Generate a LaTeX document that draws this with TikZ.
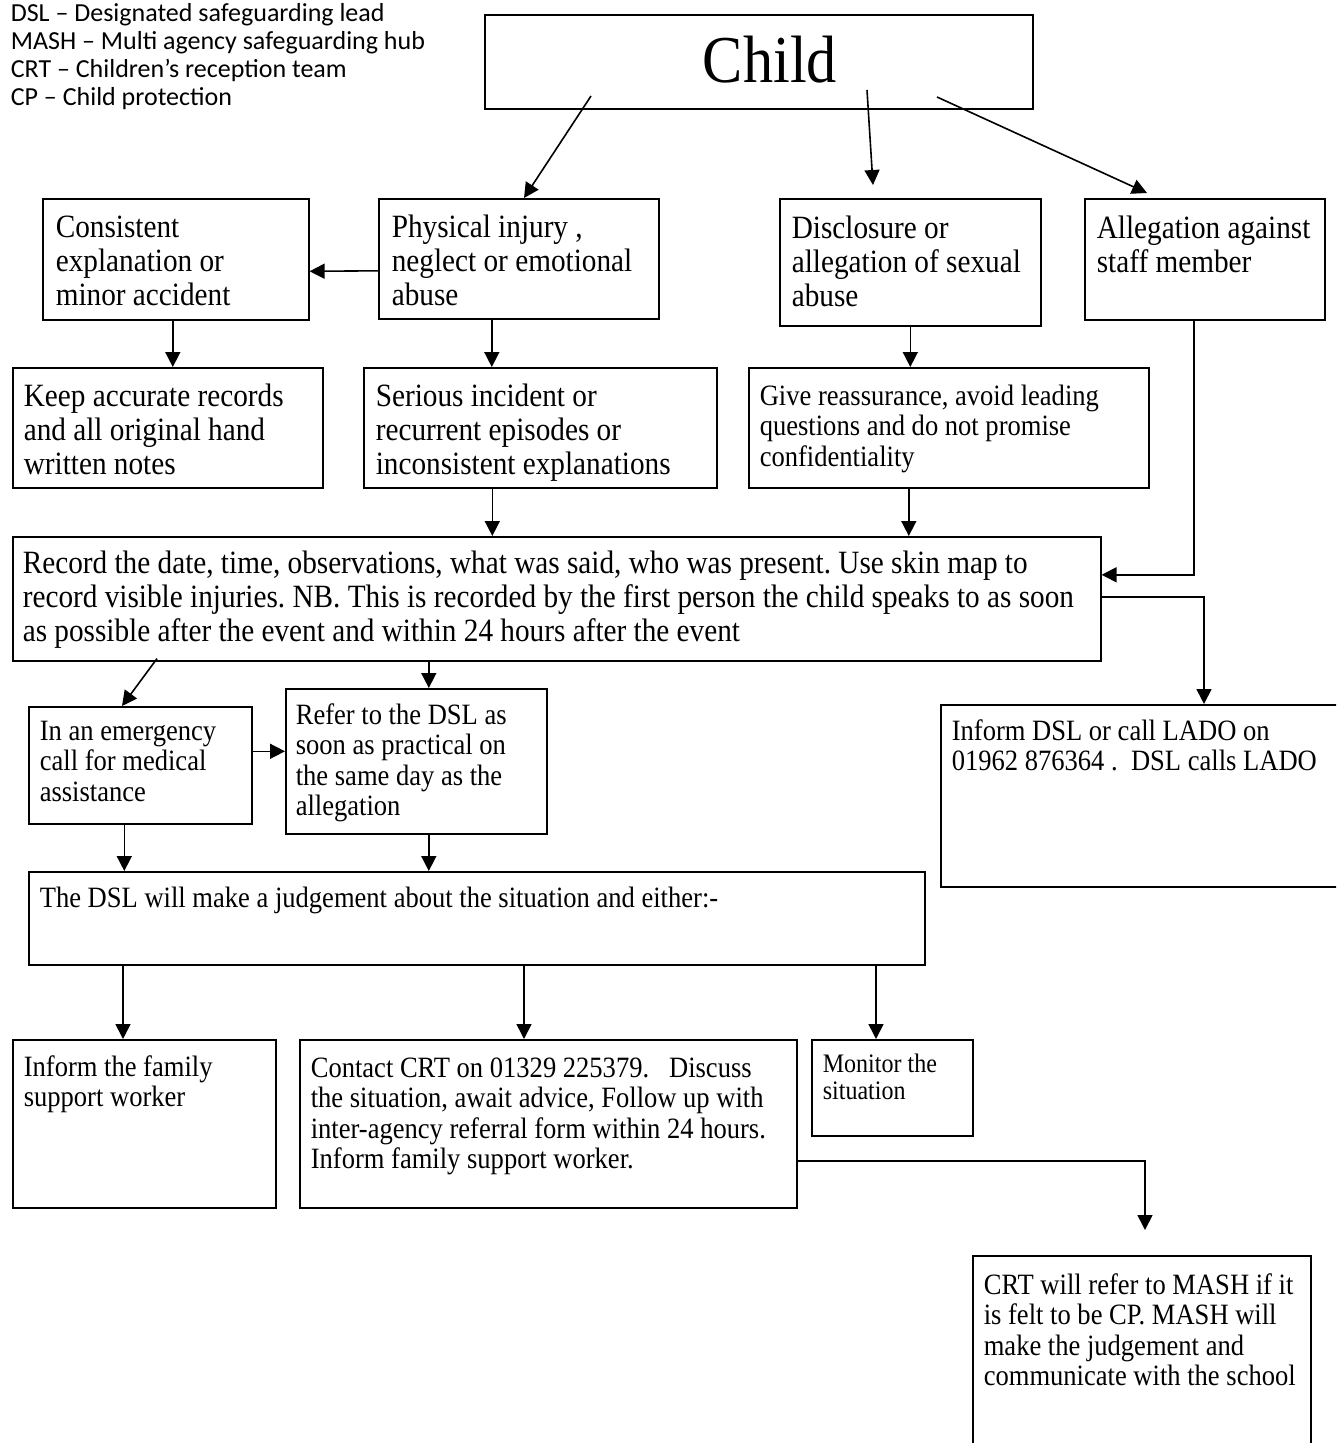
\documentclass[tikz,border=0pt]{standalone}
\usepackage{fontspec}
\setmainfont{Liberation Serif}[FakeStretch=0.9]
\newfontfamily\legendfont{Carlito}
\usetikzlibrary{arrows.meta,positioning,calc}
\newcommand{\boxlines}[1]{\begin{tabular}[t]{@{}l@{}}#1\end{tabular}}
\frenchspacing

\begin{document}
\begin{tikzpicture}[x=1pt, y=-1pt, >={Triangle[width=15pt,length=15pt]}, line width=1.6pt]
\tikzstyle{box}=[draw, line width=1.6pt, anchor=north west, inner sep=0]
\tikzstyle{txt}=[inner sep=0, anchor=base west, font=\fontsize{32.5}{34}\selectfont]
\tikzstyle{txtm}=[txt, font=\fontsize{29.5}{30.5}\selectfont]
\tikzstyle{txts}=[txt, font=\fontsize{26.7}{27}\selectfont]
\useasboundingbox (0,0) rectangle (1336,1443);
\clip (0,0) rectangle (1336,1443);

% legend
\node[inner sep=0, anchor=base west, font=\legendfont\fontsize{26}{28}\selectfont] (legend) at (10,21)
  {\boxlines{DSL – Designated safeguarding lead\\MASH – Multi agency safeguarding hub\\CRT – Children’s reception team\\CP – Child protection}};

% boxes
\node[box, minimum width=548pt, minimum height=94pt] (child) at (484,14) {};
\node[box, minimum width=266pt, minimum height=121pt] (consistent) at (42,198) {};
\node[box, minimum width=280pt, minimum height=120pt] (physical) at (378,198) {};
\node[box, minimum width=261pt, minimum height=127pt] (disclosure) at (779,198) {};
\node[box, minimum width=240pt, minimum height=121pt] (allegation) at (1084,198) {};
\node[box, minimum width=310pt, minimum height=120pt] (keep) at (12,367) {};
\node[box, minimum width=353pt, minimum height=120pt] (serious) at (363,367) {};
\node[box, minimum width=400pt, minimum height=120pt] (give) at (748,367) {};
\node[box, minimum width=1088pt, minimum height=124pt] (record) at (12,536) {};
\node[box, minimum width=223pt, minimum height=117pt] (emergency) at (28,706) {};
\node[box, minimum width=261pt, minimum height=145pt] (refer) at (285,688) {};
\node[box, minimum width=420pt, minimum height=182pt] (lado) at (940,704) {};
\node[box, minimum width=896pt, minimum height=93pt] (judgement) at (28,871) {};
\node[box, minimum width=263pt, minimum height=168pt] (family) at (12,1039) {};
\node[box, minimum width=497pt, minimum height=168pt] (contact) at (299,1039) {};
\node[box, minimum width=161pt, minimum height=96pt] (monitor) at (811,1039) {};
\node[box, minimum width=338pt, minimum height=215pt] (mash) at (972,1255) {};

% texts
\node[inner sep=0, anchor=base, font=\fontsize{67}{70}\selectfont] (child-t) at (770,82) {Child};
\node[txt] (consistent-t) at ($(consistent.north west)+(13,39)$) {\boxlines{Consistent\\explanation or\\minor accident}};
\node[txt] (physical-t) at ($(physical.north west)+(13,39)$) {\boxlines{Physical injury ,\\neglect or emotional\\abuse}};
\node[txt] (disclosure-t) at ($(disclosure.north west)+(12,40)$) {\boxlines{Disclosure or\\allegation of sexual\\abuse}};
\node[txt] (allegation-t) at ($(allegation.north west)+(12,40)$) {\boxlines{Allegation against\\staff member}};
\node[txt] (keep-t) at ($(keep.north west)+(11,39)$) {\boxlines{Keep accurate records\\and all original hand\\written notes}};
\node[txt] (serious-t) at ($(serious.north west)+(12,39)$) {\boxlines{Serious incident or\\recurrent episodes or\\inconsistent explanations}};
\node[txtm] (give-t) at ($(give.north west)+(11,38)$) {\boxlines{Give reassurance, avoid leading\\questions and do not promise\\confidentiality}};
\node[txt] (record-t) at ($(record.north west)+(10,37)$) {\boxlines{Record the date, time, observations, what was said, who was present. Use skin map to\\record visible injuries. NB. This is recorded by the first person the child speaks to as soon\\as possible after the event and within 24 hours after the event}};
\node[txtm] (emergency-t) at ($(emergency.north west)+(11,34)$) {\boxlines{In an emergency\\call for medical\\assistance}};
\node[txtm] (refer-t) at ($(refer.north west)+(10,36)$) {\boxlines{Refer to the DSL as\\soon as practical on\\the same day as the\\allegation}};
\node[txtm] (lado-t) at ($(lado.north west)+(11,36)$) {\boxlines{Inform DSL or call LADO on\\01962 876364 .\ \ DSL calls LADO}};
\node[txtm] (judgement-t) at ($(judgement.north west)+(11,36)$) {The DSL will make a judgement about the situation and either:-};
\node[txtm] (family-t) at ($(family.north west)+(11,37)$) {\boxlines{Inform the family\\support worker}};
\node[txtm] (contact-t) at ($(contact.north west)+(11,38)$) {\boxlines{Contact CRT on 01329 225379.\ \ \ Discuss\\the situation, await advice, Follow up with\\inter-agency referral form within 24 hours.\\Inform family support worker.}};
\node[txts] (monitor-t) at ($(monitor.north west)+(11,33)$) {\boxlines{Monitor the\\situation}};
\node[txtm] (mash-t) at ($(mash.north west)+(11,39)$) {\boxlines{CRT will refer to MASH if it\\is felt to be CP. MASH will\\make the judgement and\\communicate with the school}};

% connectors
\path[->]
($(child.north west)+(107,82)$) edge ($(physical.north west)+(146,0)$)
($(child.north west)+(383,76)$) edge ($(disclosure.north west)+(94,-13)$)
($(child.north west)+(453,83)$) edge ($(allegation.north west)+(63,-5)$)
($(physical.west)+(0,12)$) edge ($(consistent.east)+(0,12)$)
($(record.south west)+(145,-3)$) edge ($(emergency.north west)+(94,0)$);

\draw[->] ($(emergency.east)+(0,-14)$) coordinate (a0) -- (a0 -| refer.west);
\draw[->] ($(consistent.south)+(-3,0)$) coordinate (a1) -- (a1 |- keep.north);
\draw[->] ($(physical.south)+(-27,0)$) coordinate (a2) -- (a2 |- serious.north);
\draw[->] (disclosure.south) -- (disclosure.south |- give.north);
\draw[->] ($(serious.south)+(-48,0)$) coordinate (a3) -- (a3 |- record.north);
\draw[->] ($(give.south)+(-40,0)$) coordinate (a4) -- (a4 |- record.north);
\draw[->] ($(allegation.south)+(-11,0)$) |- ($(record.east)+(0,-24)$);
\draw[->] ($(record.east)+(0,-2)$) -| ($(lado.north west)+(264,0)$);
\draw[->] ($(refer.north)+(12.5,0)$) coordinate (a5) ++(0,-28) -- (a5);
\draw[->] ($(emergency.south)+(-16,0)$) coordinate (a6) -- (a6 |- judgement.north);
\draw[->] ($(refer.south)+(12.5,0)$) coordinate (a7) -- (a7 |- judgement.north);
\draw[->] ($(judgement.south west)+(95,0)$) coordinate (a8) -- (a8 |- family.north);
\draw[->] ($(judgement.south west)+(496,0)$) coordinate (a9) -- (a9 |- contact.north);
\draw[->] ($(judgement.south west)+(848,0)$) coordinate (a10) -- (a10 |- monitor.north);
\draw[->] ($(contact.east)+(0,37)$) -| ($(mash.north west)+(173,-25)$);
\end{tikzpicture}
\end{document}
